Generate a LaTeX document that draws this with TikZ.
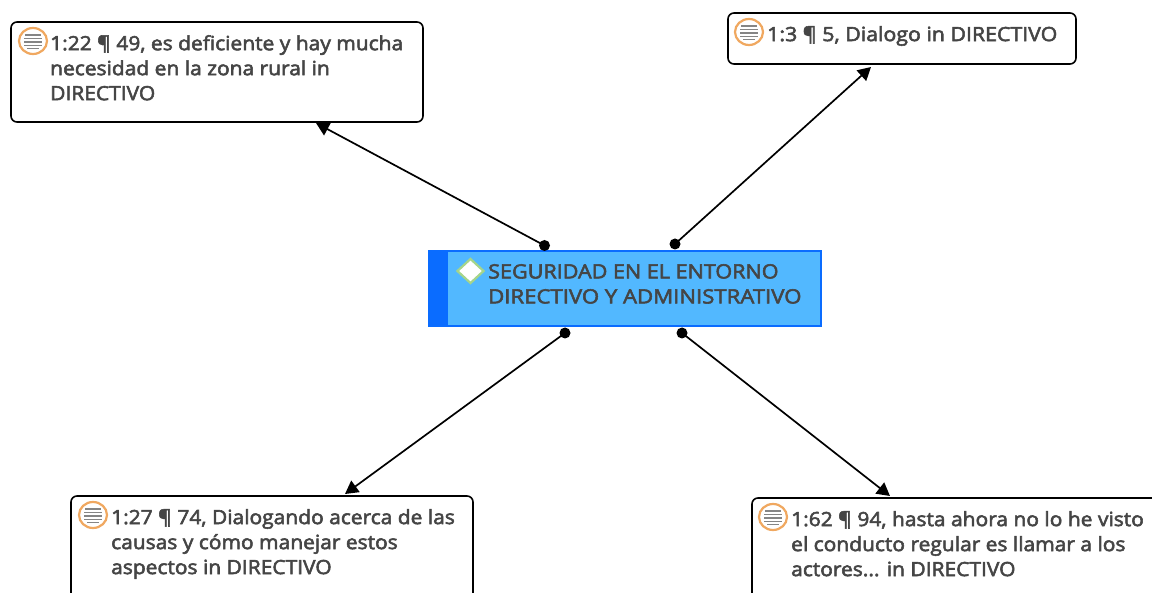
\documentclass[tikz,border=0pt]{standalone}
\usepackage{fontspec}
\newfontfamily\labfont[RawFeature={embolden=2.8},FakeStretch=1.07]{Open Sans}
\newfontfamily\capfont[RawFeature={embolden=2.8},FakeStretch=1.13]{Open Sans}
\newfontfamily\capfontb[RawFeature={embolden=2.8},FakeStretch=1.10]{Open Sans}
\newfontfamily\shortfont[RawFeature={embolden=2.8},FakeStretch=1.088]{Open Sans}
\usetikzlibrary{arrows.meta,shapes.geometric}
\definecolor{txt}{HTML}{454545}
\definecolor{ringc}{HTML}{F0A860}
\definecolor{icong}{HTML}{858585}
\definecolor{mainblue}{HTML}{52B8FF}
\definecolor{darkblue}{HTML}{0A6CFF}
\definecolor{greenb}{HTML}{A5D58A}
\tikzset{
  x=1pt,y=-1pt,
  quotebox/.style={draw=black,line width=1.6pt,rounded corners=6pt,fill=white,outer sep=0pt},
  label/.style={anchor=north west,inner sep=0pt,align=left,text=txt,font=\labfont\fontsize{19.6}{25}\selectfont},
  dot/.style={circle,fill=black,inner sep=0pt,minimum size=11pt},
  link/.style={draw=black,line width=1.7pt,-{Triangle[length=13pt,width=14pt]}},
  ring/.style={ellipse,draw=ringc,line width=2.2pt,fill=white,minimum width=28pt,minimum height=26pt,inner sep=0pt},
  bar/.style={draw=icong,line width=1.7pt}
}
\newcommand{\docicon}[3]{%
  \node[ring] (#3) at (#1,#2) {};
  \draw[bar] (#1-8,#2-6) -- (#1+8,#2-6);
  \draw[bar] (#1-9,#2-2.5) -- (#1+9,#2-2.5);
  \draw[bar] (#1-9,#2+1) -- (#1+9,#2+1);
  \draw[bar] (#1-9,#2+4.5) -- (#1+9,#2+4.5);
  \draw[bar] (#1-6,#2+7.5) -- (#1+6,#2+7.5);
}
\begin{document}
\begin{tikzpicture}
\useasboundingbox (0,0) rectangle (1152,593);
\clip (0,0) rectangle (1152,593);
\fill[white] (0,0) rectangle (1152,593);

% boxes
\node[quotebox,anchor=north west,minimum width=412pt,minimum height=100pt] (b1) at (11,22) {};
\node[quotebox,anchor=north west,minimum width=348pt,minimum height=51pt] (b2) at (728,13) {};
\node[quotebox,anchor=north west,minimum width=402pt,minimum height=110pt] (b3) at (71,496) {};
\node[quotebox,anchor=north west,minimum width=412pt,minimum height=110pt] (b4) at (752,498) {};

% central node
\node[draw=darkblue,line width=1.4pt,fill=mainblue,outer sep=0pt,anchor=north west,minimum width=392pt,minimum height=75pt] (c) at (429,251) {};
\fill[darkblue] (429,251) rectangle (448,326);
\node[diamond,draw=greenb,line width=2.2pt,fill=white,minimum width=27pt,minimum height=25pt,inner sep=0pt] (dm) at (470.5,271) {};

% icons
\docicon{33}{41}{i1}
\docicon{749}{32}{i2}
\docicon{93}{515}{i3}
\docicon{773}{517}{i4}

% labels
\node[label] (t1) at (50,35) {1:22 ¶ 49, es deficiente y hay mucha\\necesidad en la zona rural in\\DIRECTIVO};
\node[label,font=\shortfont\fontsize{19.6}{25}\selectfont] (t2) at (767,26) {1:3 ¶ 5, Dialogo in DIRECTIVO};
\node[label] (t3) at (111,509) {1:27 ¶ 74, Dialogando acerca de las\\causas y cómo manejar estos\\aspectos in DIRECTIVO};
\node[label] (t4) at (791,511) {1:62 ¶ 94, hasta ahora no lo he visto\\el conducto regular es llamar a los\\actores... in DIRECTIVO};
\node[label,font=\capfont\fontsize{19.6}{25}\selectfont] (tc) at (488,264) {{\capfontb SEGURIDAD EN EL ENTORNO}\\DIRECTIVO Y ADMINISTRATIVO};

% connector ends
\node[dot] (d1) at (544.5,245.5) {};
\node[dot] (d2) at (675,244) {};
\node[dot] (d3) at (565,333) {};
\node[dot] (d4) at (682,333) {};
\coordinate (e1) at (316,123);
\coordinate (e2) at (871,67);
\coordinate (e3) at (345,494);
\coordinate (e4) at (890,496);
\draw[link] (d1.center) -- (e1);
\draw[link] (d2.center) -- (e2);
\draw[link] (d3.center) -- (e3);
\draw[link] (d4.center) -- (e4);
\end{tikzpicture}
\end{document}
